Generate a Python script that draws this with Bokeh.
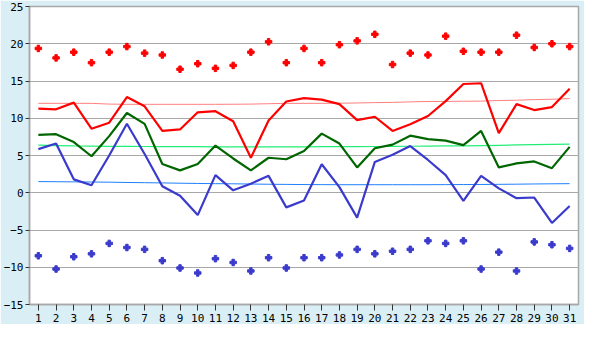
from bokeh.plotting import figure
from bokeh.models import Range1d, FixedTicker
from bokeh.embed import file_html
from bokeh.resources import INLINE

days = list(range(1, 32))

max_t = [11.3, 11.2, 12.1, 8.6, 9.4, 12.85, 11.6, 8.3, 8.5, 10.8, 10.95, 9.6, 4.7, 9.7, 12.25, 12.7,
         12.5, 11.9, 9.75, 10.2, 8.3, 9.2, 10.3, 12.3, 14.6, 14.7, 8.0, 11.9, 11.1, 11.5, 13.95]
mean_t = [7.77, 7.86, 6.8, 4.9, 7.6, 10.7, 9.25, 3.85, 3.0, 3.85, 6.33, 4.6, 3.0, 4.7, 4.5, 5.6,
          7.94, 6.6, 3.4, 5.97, 6.46, 7.66, 7.2, 7.0, 6.4, 8.3, 3.4, 3.95, 4.2, 3.3, 6.16]
min_t = [5.86, 6.62, 1.8, 1.0, 5.0, 9.27, 5.2, 0.88, -0.4, -3.0, 2.36, 0.33, 1.22, 2.27, -1.96, -1.03,
         3.83, 0.75, -3.34, 4.14, 5.1, 6.26, 4.4, 2.36, -1.1, 2.27, 0.59, -0.73, -0.64, -4.06, -1.78]

max_pts = [19.37, 18.1, 18.87, 17.46, 18.87, 19.62, 18.74, 18.49, 16.58, 17.32, 16.7, 17.09, 18.87,
           20.26, 17.46, 19.37, 17.46, 19.87, 20.39, 21.27, 17.21, 18.74, 18.49, 21.02, 18.99, 18.87,
           18.87, 21.15, 19.5, 20.0, 19.62]
min_pts = [-8.46, -10.24, -8.59, -8.2, -6.8, -7.35, -7.6, -9.12, -10.1, -10.77, -8.85, -9.36, -10.5,
           -8.72, -10.1, -8.72, -8.72, -8.35, -7.6, -8.2, -7.85, -7.6, -6.45, -6.8, -6.45, -10.24,
           -7.97, -10.5, -6.6, -6.98, -7.47]

norm_max = [12.0, 12.0, 12.0, 12.0, 11.9, 11.87, 11.87, 11.87, 11.87, 11.87, 11.87, 11.88, 11.9,
            11.95, 12.0, 12.0, 12.0, 12.02, 12.05, 12.1, 12.13, 12.2, 12.25, 12.26, 12.28, 12.3,
            12.38, 12.42, 12.5, 12.55, 12.64]
norm_mean = [6.38, 6.33, 6.28, 6.25, 6.23, 6.22, 6.21, 6.2, 6.19, 6.18, 6.17, 6.16, 6.16, 6.16, 6.16,
             6.17, 6.18, 6.19, 6.2, 6.21, 6.22, 6.24, 6.26, 6.28, 6.3, 6.33, 6.37, 6.42, 6.46, 6.5, 6.54]
norm_min = [1.5, 1.48, 1.46, 1.44, 1.42, 1.38, 1.35, 1.32, 1.28, 1.25, 1.22, 1.2, 1.17, 1.14, 1.12,
            1.1, 1.09, 1.08, 1.08, 1.08, 1.08, 1.08, 1.08, 1.09, 1.1, 1.11, 1.13, 1.15, 1.18, 1.2, 1.22]

y_ticks = [-15, -10, -5, 0, 5, 10, 15, 20, 25]

bg = "#d9eff5"
grey = "#a8a8a8"

p = figure(width=584, height=324, output_backend="svg", toolbar_location=None,
           x_range=Range1d(0.5, 31.5), y_range=Range1d(-15, 25),
           min_border_left=0, min_border_right=6, min_border_top=6, min_border_bottom=0)
p.border_fill_color = bg
p.background_fill_color = "white"
p.outline_line_color = grey
p.outline_line_width = 1.5

p.xgrid.visible = False
p.ygrid.grid_line_color = grey
p.ygrid.grid_line_width = 1
p.ygrid.ticker = FixedTicker(ticks=y_ticks)

p.xaxis.ticker = FixedTicker(ticks=days)
p.yaxis.ticker = FixedTicker(ticks=y_ticks)
for ax in (p.xaxis[0], p.yaxis[0]):
    ax.axis_line_color = grey
    ax.axis_line_width = 1.5
    ax.major_tick_line_color = "#333333"
    ax.major_tick_in = 0
    ax.minor_tick_line_color = None
    ax.major_label_text_font = "DejaVu Sans Mono"
    ax.major_label_text_font_size = "11px"
    ax.major_label_text_color = "#000000"
p.xaxis.major_tick_out = 6
p.xaxis.major_label_standoff = 3
p.yaxis.major_tick_out = 4
p.yaxis.major_label_standoff = 2

# normals (thin)
p.line(days, norm_max, line_color="#ff7f7f", line_width=1)
p.line(days, norm_mean, line_color="#22ee77", line_width=1.2)
p.line(days, norm_min, line_color="#1e7fff", line_width=1)

# daily series (thick)
p.line(days, max_t, line_color="#ff0000", line_width=2.2)
p.line(days, mean_t, line_color="#006600", line_width=2.2)
p.line(days, min_t, line_color="#3a3acc", line_width=2.2)

# extremes (markers)
p.scatter(days, max_pts, marker="plus", size=6.5, fill_color="#ff0000", line_color="#ff0000")
p.scatter(days, min_pts, marker="plus", size=6.5, fill_color="#3a3acc", line_color="#3a3acc")

open("out.html", "w").write(file_html(p, INLINE))
